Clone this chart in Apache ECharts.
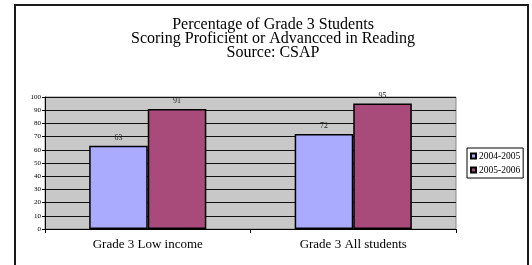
<!DOCTYPE html>
<html>
<head>
<meta charset="utf-8">
<script src="https://cdn.jsdelivr.net/npm/echarts@6/dist/echarts.min.js"></script>
<style>
html,body{margin:0;padding:0;background:#fff;}
#chart{width:532px;height:265px;}
</style>
</head>
<body>
<div id="chart"></div>
<script>
var categories = ['Grade 3 Low income', 'Grade 3 All students'];
var years = ['2004-2005', '2005-2006'];
var values0405 = [63, 72];
var values0506 = [91, 95];
var yTicks = [0, 10, 20, 30, 40, 50, 60, 70, 80, 90, 100];

var serif = '"Liberation Serif", "Times New Roman", serif';
var myChart = echarts.init(document.getElementById('chart'));
var option = {
    animation: false,
    backgroundColor: '#fff',
    title: {
        text: 'Percentage of Grade 3 Students\nScoring Proficient or Advancced in Reading\nSource: CSAP',
        left: 268,
        top: 13,
        textAlign: 'center',
        textStyle: {
            fontFamily: serif,
            fontSize: 16,
            fontWeight: 'normal',
            color: '#000',
            lineHeight: 14
        }
    },
    graphic: [{
        type: 'rect',
        shape: {x: 15, y: 5, width: 513, height: 280},
        style: {fill: 'none', stroke: '#1a1a1a', lineWidth: 2}
    }],
    legend: {
        orient: 'vertical',
        left: 467,
        top: 148,
        padding: [3, 3, 3, 3],
        itemGap: 4,
        itemWidth: 5,
        itemHeight: 5,
        borderColor: '#000',
        borderWidth: 1,
        icon: 'rect',
        data: years,
        textStyle: {fontFamily: serif, fontSize: 9.5, lineHeight: 10, color: '#000', padding: [0, 0, 0, -2]}
    },
    grid: {
        show: true,
        left: 45,
        top: 97,
        width: 411,
        height: 132,
        backgroundColor: '#c8c8c8',
        borderColor: '#888',
        borderWidth: 1
    },
    xAxis: {
        type: 'category',
        data: categories,
        axisLine: {lineStyle: {color: '#000', width: 1}},
        axisTick: {show: true, inside: false, length: 4, lineStyle: {color: '#000'}},
        axisLabel: {fontFamily: serif, fontSize: 13, color: '#000', margin: 9}
    },
    yAxis: {
        type: 'value',
        min: 0,
        max: 100,
        interval: 10,
        axisLine: {show: true, lineStyle: {color: '#000', width: 1}},
        axisTick: {show: true, length: 3, lineStyle: {color: '#000'}},
        axisLabel: {
            fontFamily: serif,
            fontSize: 7,
            color: '#000',
            margin: 4,
            formatter: function (v) { return yTicks.indexOf(v) >= 0 ? String(v) : ''; }
        },
        splitLine: {show: true, lineStyle: {color: '#111', width: 1}}
    },
    series: [
        {
            name: years[0],
            type: 'bar',
            data: values0405,
            barGap: '0%',
            barCategoryGap: '43%',
            itemStyle: {color: '#aaaaff', borderColor: '#000', borderWidth: 1.5},
            label: {show: true, position: 'top', distance: 4, fontFamily: serif, fontSize: 8, color: '#222'}
        },
        {
            name: years[1],
            type: 'bar',
            data: values0506,
            barGap: '0%',
            barCategoryGap: '43%',
            itemStyle: {color: '#a84a7a', borderColor: '#000', borderWidth: 1.5},
            label: {show: true, position: 'top', distance: 4, fontFamily: serif, fontSize: 8, color: '#222'}
        }
    ]
};
if (option && typeof option === "object") {
    myChart.setOption(option, true);
}
</script>
</body>
</html>
